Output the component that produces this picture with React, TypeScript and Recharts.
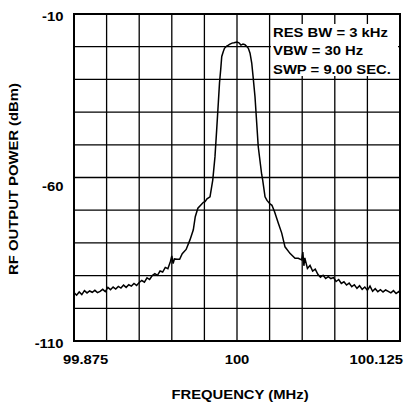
import { LineChart, Line, XAxis, YAxis, CartesianGrid, ReferenceArea } from "recharts";

// frequency offset from the 100 MHz carrier, in kHz
const OFFSET_KHZ = [
  -125, -123, -121, -119, -117, -115, -113, -111, -109, -107, -105, -103, -101, -99, -97, -95, -93, -91,
  -89, -87, -85, -83, -81, -79, -77, -75, -73, -71, -69, -67, -65, -63, -61, -59, -57, -55, -53, -51,
  -50, -49, -48, -46, -44, -42, -39, -36, -33.5, -32, -30, -27, -25.8, -24.5, -23, -20.7, -18.6, -16.9,
  -15.6, -14.3, -13.4, -12.5, -11.7, -10.5, -9.6, -7.9, -6.9, -5.4, -3.8, -2.3, 0, 1.5, 3, 4.6, 6.1,
  7.7, 8.7, 10, 11.3, 12.3, 13.8, 16.3, 18.9, 19.7, 21.5, 23, 25.3, 26.8, 28.8, 31.7, 34.3, 36.8, 40.6,
  44.5, 47, 49.6, 50.5, 51.3, 52, 53, 54, 56, 58, 60, 62, 64, 66, 68, 70, 72, 74, 76, 78, 80, 82, 84,
  86, 88, 90, 92, 94, 96, 98, 100, 102, 104, 106, 108, 110, 112, 114, 116, 118, 120, 122, 124, 125,
];

const POWER_DBM = [
  -95.2, -96.0, -95.0, -95.8, -94.6, -95.3, -94.7, -95.1, -94.5, -95.2, -94.8, -94.2, -94.9, -93.6, -94.3, -93.5, -94.1, -93.3,
  -93.8, -92.9, -93.6, -92.8, -93.2, -92.4, -93.0, -92.1, -91.5, -92.0, -90.7, -91.2, -90.0, -89.4, -89.9, -88.6, -88.9, -87.5, -87.9, -85.6,
  -84.0, -86.3, -84.9, -85.0, -85.0, -83.3, -82.0, -79.0, -76.0, -72.0, -69.4, -68.1, -67.6, -67.4, -66.5, -65.9, -60.8, -53.7,
  -45.5, -37.0, -31.0, -27.0, -23.0, -21.5, -20.5, -19.8, -19.6, -19.2, -18.9, -18.8, -18.6, -18.8, -19.5, -19.2, -19.4,
  -20.0, -20.5, -22.0, -25.0, -29.0, -35.3, -50.6, -59.0, -60.8, -65.9, -67.0, -68.1, -68.5, -70.5, -74.0, -77.0, -81.2, -83.2,
  -84.7, -84.7, -85.2, -82.8, -87.0, -84.6, -86.2, -87.8, -86.9, -88.6, -88.0, -89.6, -90.5, -89.9, -90.9, -90.3, -90.9, -90.6, -91.8, -91.2, -92.4, -91.9, -92.9,
  -92.3, -93.4, -92.8, -93.9, -93.1, -94.2, -93.5, -94.5, -93.2, -94.8, -94.0, -94.9, -94.3, -95.0, -94.4, -94.8, -95.3, -94.6, -95.5, -94.9, -95.4,
];

const X_TICKS = [-125, -100, -75, -50, -25, 0, 25, 50, 75, 100, 125];
const X_LABELS: Record<string, string> = { "-125": "99.875", "0": "100", "125": "100.125" };
const Y_TICKS = [-110, -100, -90, -80, -70, -60, -50, -40, -30, -20, -10];
const Y_LABELS = [-10, -60, -110];
const NOTES = ["RES BW = 3 kHz", "VBW = 30 Hz", "SWP = 9.00 SEC."];

const data = OFFSET_KHZ.map((d, i) => ({ d, p: POWER_DBM[i] }));

const FONT = "'Liberation Sans', Arial, Helvetica, sans-serif";
const STRETCH = 1.14; // the original lettering is a wide Helvetica

function FreqTick({ x, y, payload }: any) {
  const label = X_LABELS[String(payload.value)];
  if (!label) return null;
  const v = payload.value;
  const anchor = v < 0 ? "start" : v > 0 ? "end" : "middle";
  const dx = v < 0 ? -11 : v > 0 ? 3 : 0;
  return (
    <text
      transform={`translate(${x + dx},${y + 23}) scale(${STRETCH},1)`}
      textAnchor={anchor} fontFamily={FONT} fontWeight="bold" fontSize={13} fill="#000"
    >
      {label}
    </text>
  );
}

function PowerTick({ x, y, payload }: any) {
  if (!Y_LABELS.includes(payload.value)) return null;
  const dy = payload.value === -60 ? 13 : 7;
  return (
    <text
      transform={`translate(${x - 10.5},${y + dy}) scale(${STRETCH},1)`}
      textAnchor="end" fontFamily={FONT} fontWeight="bold" fontSize={13} fill="#000"
    >
      {payload.value}
    </text>
  );
}

export default function App() {
  return (
    <div style={{ position: "absolute", left: 0, top: 0, width: 413, height: 404, background: "#fff", fontFamily: FONT }}>
      <LineChart width={413} height={404} data={data} margin={{ top: 14, right: 13, left: 0, bottom: 23 }}>
        <CartesianGrid stroke="#000" strokeWidth={1.3} />
        <XAxis
          dataKey="d"
          type="number"
          domain={[-125, 125]}
          ticks={X_TICKS}
          tick={<FreqTick />}
          tickSize={0}
          tickMargin={0}
          axisLine={false}
          tickLine={false}
          height={40}
          interval={0}
        />
        <YAxis
          type="number"
          domain={[-110, -10]}
          ticks={Y_TICKS}
          tick={<PowerTick />}
          tickSize={0}
          tickMargin={0}
          axisLine={false}
          tickLine={false}
          width={74}
          interval={0}
        />
        <ReferenceArea x1={-125} x2={125} y1={-110} y2={-10} fill="none" stroke="#000" strokeWidth={2} />
        <Line dataKey="p" stroke="#000" strokeWidth={1.5} dot={false} isAnimationActive={false} />
      </LineChart>
      <div
        style={{
          position: "absolute", left: 271, top: 24, width: 127, height: 52, background: "#fff",
          fontWeight: "bold", fontSize: 13, lineHeight: "18.4px", paddingLeft: 2, boxSizing: "border-box",
        }}
      >
        {NOTES.map((n) => (
          <div key={n} style={{ whiteSpace: "nowrap", transform: `scaleX(${STRETCH})`, transformOrigin: "left center" }}>
            {n}
          </div>
        ))}
      </div>
      <div
        style={{
          position: "absolute", left: 13, top: 179,
          transform: `translate(-50%, -50%) rotate(-90deg) scaleX(${STRETCH})`,
          whiteSpace: "nowrap", fontWeight: "bold", fontSize: 13,
        }}
      >
        RF OUTPUT POWER (dBm)
      </div>
      <div
        style={{
          position: "absolute", left: 240, top: 394,
          transform: `translate(-50%, -50%) scaleX(${STRETCH})`,
          whiteSpace: "nowrap", fontWeight: "bold", fontSize: 13,
        }}
      >
        FREQUENCY (MHz)
      </div>
    </div>
  );
}
